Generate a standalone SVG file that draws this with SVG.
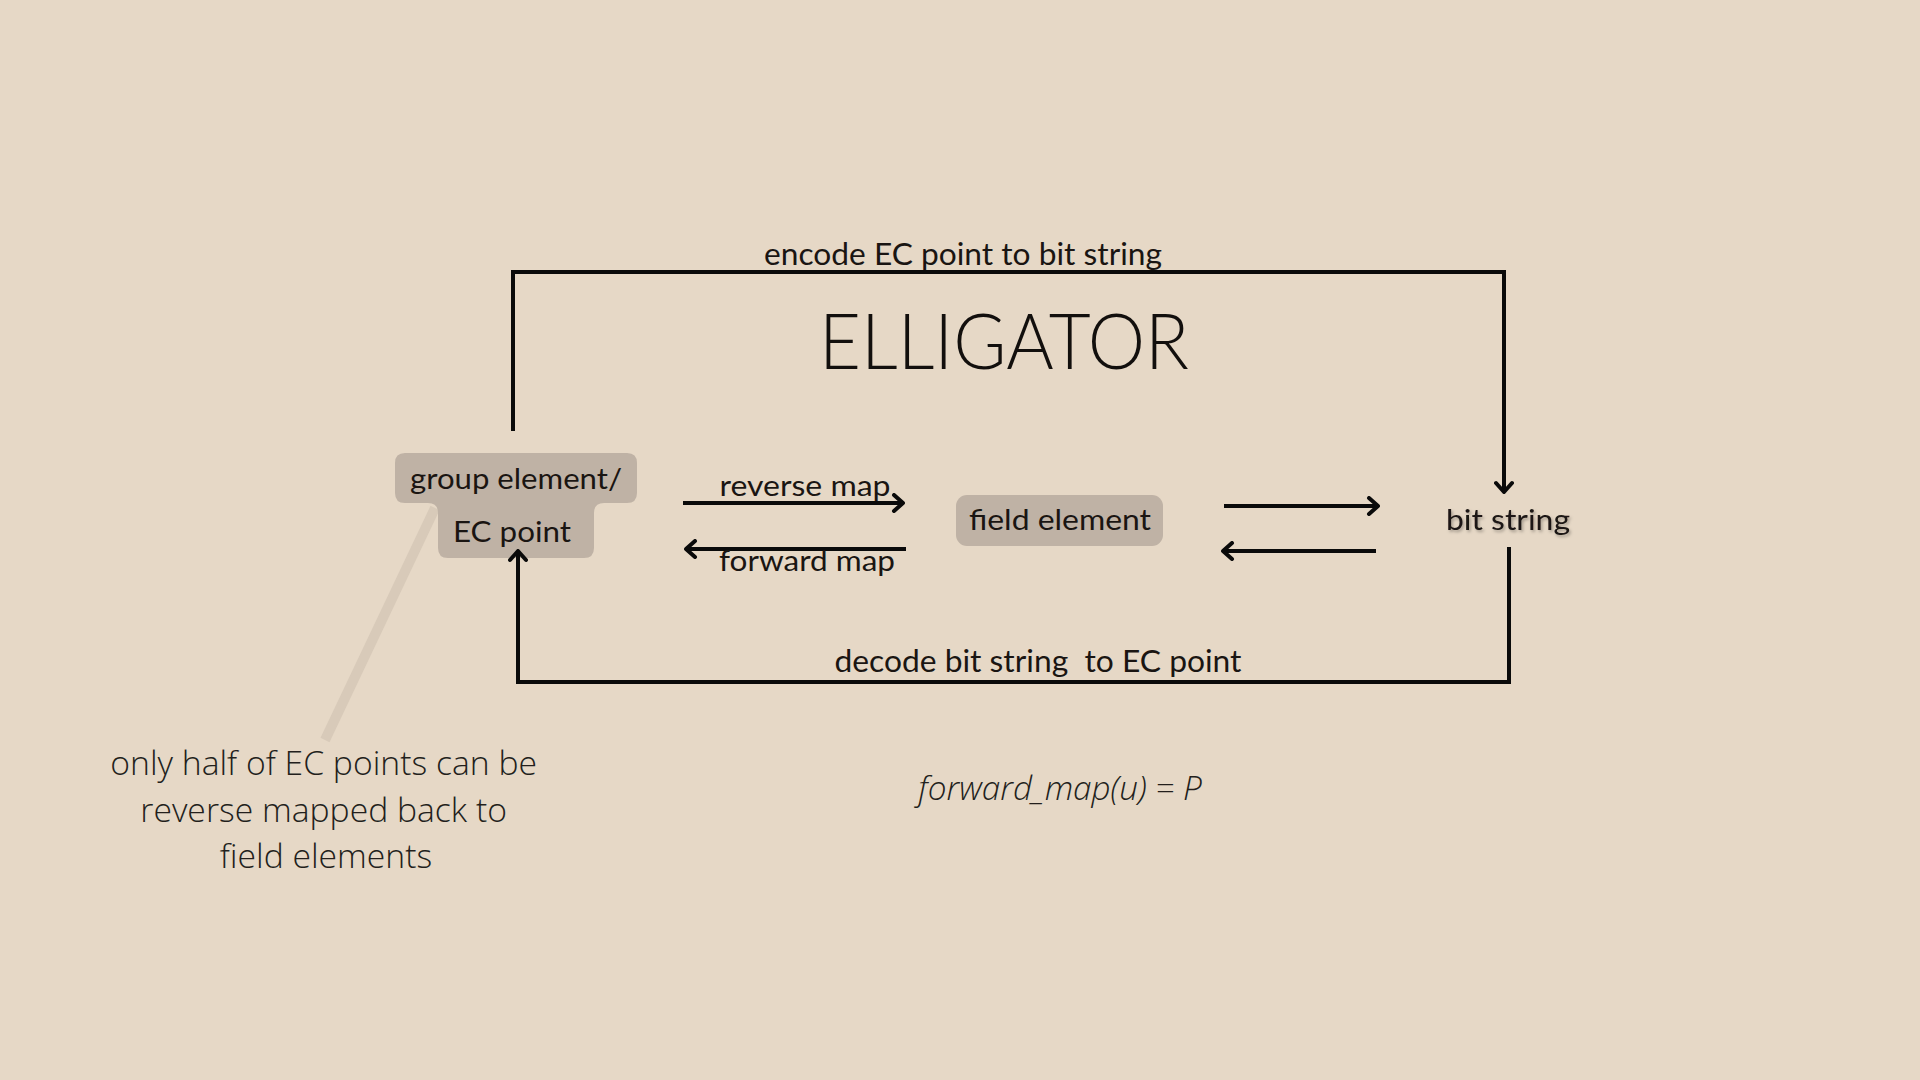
<svg xmlns="http://www.w3.org/2000/svg" width="1920" height="1080" viewBox="0 0 1920 1080">
<defs>
<style>
.lbl{font-family:Lato,"Open Sans","Liberation Sans",sans-serif;fill:#1a1512;}
.conn{fill:none;stroke:#0a0a0a;stroke-width:4;}
.note{font-family:"Open Sans","Noto Sans","Liberation Sans",sans-serif;font-weight:300;fill:#231f1c;}
.node{fill:#bfb2a5;}
</style>
<marker id="ah" viewBox="-12 -10 14 20" markerWidth="14" markerHeight="20" refX="0" refY="0" orient="auto" markerUnits="userSpaceOnUse">
<polyline points="-9,-8 0,0 -9,8" fill="none" stroke="#0a0a0a" stroke-width="4" stroke-linecap="round" stroke-linejoin="round"/>
</marker>
<filter id="sh" x="-10%" y="-30%" width="130%" height="160%">
<feDropShadow dx="1.5" dy="2" stdDeviation="1.5" flood-color="#000" flood-opacity="0.3"/>
</filter>
</defs>
<rect width="1920" height="1080" fill="#e6d8c6"/>

<line x1="435" y1="508" x2="325" y2="740" stroke="#d8cab9" stroke-width="10"/>

<g id="node-group-element">
<path class="node" d="M405,453 H627 Q637,453 637,463 V493 Q637,503 627,503 H604 Q594,503 594,513 V548 Q594,558 584,558 H448 Q438,558 438,548 V513 Q438,503 428,503 H405 Q395,503 395,493 V463 Q395,453 405,453 Z"/>
<text class="lbl" x="516" y="489" font-size="29" text-anchor="middle" textLength="212" lengthAdjust="spacingAndGlyphs">group element/</text>
<text class="lbl" x="512" y="542" font-size="29" text-anchor="middle" textLength="118" lengthAdjust="spacingAndGlyphs">EC point</text>
</g>

<g id="node-field-element">
<rect class="node" x="956" y="495" width="207" height="51" rx="11"/>
<text class="lbl" x="1060" y="530" font-size="29" text-anchor="middle" textLength="182" lengthAdjust="spacingAndGlyphs">field element</text>
</g>

<g id="node-bit-string">
<text class="lbl" x="1508" y="530" font-size="29" text-anchor="middle" textLength="124" lengthAdjust="spacingAndGlyphs" filter="url(#sh)">bit string</text>
</g>

<g id="title">
<text x="1004" y="369" font-family="Lato,'Open Sans','Liberation Sans',sans-serif" font-weight="300" font-size="76" fill="#120f0d" text-anchor="middle" textLength="370" lengthAdjust="spacingAndGlyphs">ELLIGATOR</text>
</g>

<g id="connectors">
<path class="conn" d="M513,431 V272 H1504 V492" marker-end="url(#ah)"/>
<path class="conn" d="M1509,547 V682 H518 V551" marker-end="url(#ah)"/>
<line class="conn" x1="683" y1="503" x2="903" y2="503" marker-end="url(#ah)"/>
<line class="conn" x1="906" y1="549" x2="686" y2="549" marker-end="url(#ah)"/>
<line class="conn" x1="1224" y1="506" x2="1378" y2="506" marker-end="url(#ah)"/>
<line class="conn" x1="1376" y1="551" x2="1223" y2="551" marker-end="url(#ah)"/>
<text class="lbl" x="963" y="265" font-size="31" text-anchor="middle" textLength="398" lengthAdjust="spacingAndGlyphs">encode EC point to bit string</text>
<text class="lbl" x="1038" y="672" font-size="31" text-anchor="middle" textLength="407" lengthAdjust="spacingAndGlyphs" style="white-space:pre">decode bit string  to EC point</text>
<text class="lbl" x="805" y="496" font-size="29" text-anchor="middle" textLength="171" lengthAdjust="spacingAndGlyphs">reverse map</text>
<text class="lbl" x="807" y="571" font-size="29" text-anchor="middle" textLength="176" lengthAdjust="spacingAndGlyphs">forward map</text>
</g>

<g id="note">
<text class="note" font-size="33.7" text-anchor="middle">
<tspan x="328" y="775">only half of EC points can be</tspan>
<tspan x="328" y="822">reverse mapped back to</tspan>
<tspan x="326" y="868">field elements</tspan>
</text>
</g>

<g id="formula">
<text class="note" x="1060" y="800" font-size="33.3" font-style="italic" text-anchor="middle">forward_map(u) = P</text>
</g>
</svg>
